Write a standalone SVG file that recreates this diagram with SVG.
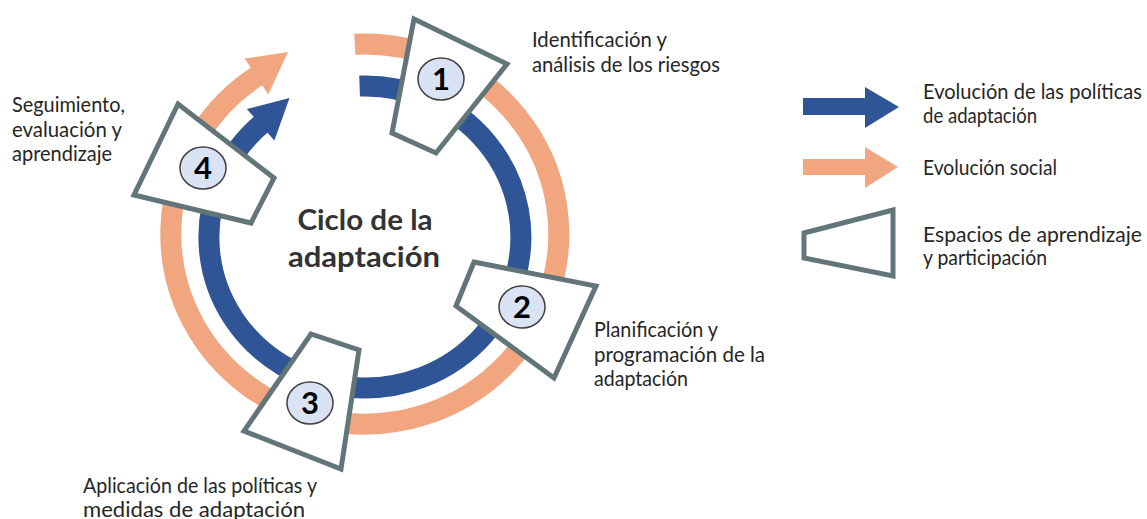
<svg xmlns="http://www.w3.org/2000/svg" width="1147" height="519" viewBox="0 0 1147 519">
  <style>
    .lbl { font-family: Lato, "Liberation Sans", sans-serif; font-size: 20.5px; fill: #262626; }
    .title { font-family: Lato, "Liberation Sans", sans-serif; font-size: 28px; font-weight: bold; fill: #333333; }
    .num { font-family: Lato, "Liberation Sans", sans-serif; font-size: 31px; font-weight: bold; fill: #000000; text-anchor: middle; }
    .box { fill: #ffffff; stroke: #627578; stroke-width: 5; stroke-linejoin: miter; }
    .badge { fill: #dae3f3; stroke: #404040; stroke-width: 1.5; }
    .blue { fill: none; stroke: #2f5597; stroke-width: 21; }
    .orange { fill: none; stroke: #f2a680; stroke-width: 21; }
  </style>
  <rect width="1147" height="519" fill="#ffffff"/>

  <g id="connectors">
    <path class="orange" d="M 354.8 44.3 A 194 190 0 1 1 259.3 74.6"/>
    <polygon fill="#f2a680" points="244.7,58.6 268.3,94.4 288,52"/>
    <path class="blue" d="M 359.6 86.1 A 156 151 0 1 1 262.6 123"/>
    <polygon fill="#2f5597" points="246.8,109 274.4,140.6 289.5,98"/>
  </g>

  <g id="title">
    <text class="title" x="365" y="230" text-anchor="middle" textLength="135" lengthAdjust="spacingAndGlyphs">Ciclo de la</text>
    <text class="title" x="364" y="267" text-anchor="middle" textLength="152" lengthAdjust="spacingAndGlyphs">adaptación</text>
  </g>

  <g id="step1">
    <polygon class="box" points="414,19 507,64 436,153 392,133"/>
    <ellipse class="badge" cx="441" cy="79" rx="23" ry="21"/>
    <text class="num" x="441" y="90">1</text>
    <text class="lbl" x="532" y="47" textLength="135" lengthAdjust="spacingAndGlyphs">Identificación y</text>
    <text class="lbl" x="532" y="72" textLength="188" lengthAdjust="spacingAndGlyphs">análisis de los riesgos</text>
  </g>

  <g id="step2">
    <polygon class="box" points="474,262 596,286 554,378 456,306"/>
    <ellipse class="badge" cx="522" cy="307" rx="23" ry="21"/>
    <text class="num" x="522" y="318">2</text>
    <text class="lbl" x="594" y="337" textLength="124" lengthAdjust="spacingAndGlyphs">Planificación y</text>
    <text class="lbl" x="594" y="362" textLength="171" lengthAdjust="spacingAndGlyphs">programación de la</text>
    <text class="lbl" x="594" y="386" textLength="94" lengthAdjust="spacingAndGlyphs">adaptación</text>
  </g>

  <g id="step3">
    <polygon class="box" points="311,334 359,350 341,469 244,431"/>
    <ellipse class="badge" cx="310" cy="403" rx="23" ry="21"/>
    <text class="num" x="310" y="414">3</text>
    <text class="lbl" x="83" y="493" textLength="234" lengthAdjust="spacingAndGlyphs">Aplicación de las políticas y</text>
    <text class="lbl" x="83" y="517" textLength="222" lengthAdjust="spacingAndGlyphs">medidas de adaptación</text>
  </g>

  <g id="step4">
    <polygon class="box" points="178,104 274,178 251,223 134,195"/>
    <ellipse class="badge" cx="203" cy="168" rx="23" ry="21"/>
    <text class="num" x="203" y="179">4</text>
    <text class="lbl" x="12" y="112" textLength="113" lengthAdjust="spacingAndGlyphs">Seguimiento,</text>
    <text class="lbl" x="12" y="137" textLength="110" lengthAdjust="spacingAndGlyphs">evaluación y</text>
    <text class="lbl" x="12" y="161" textLength="100" lengthAdjust="spacingAndGlyphs">aprendizaje</text>
  </g>

  <g id="legend">
    <polygon fill="#2f5597" points="803,98 865,98 865,87 899,107 865,128 865,115 803,115"/>
    <text class="lbl" x="923" y="99" textLength="219" lengthAdjust="spacingAndGlyphs">Evolución de las políticas</text>
    <text class="lbl" x="923" y="123" textLength="114" lengthAdjust="spacingAndGlyphs">de adaptación</text>
    <polygon fill="#f2a680" points="803,159 865,159 865,147 898,167 865,188 865,175 803,175"/>
    <text class="lbl" x="923" y="175" textLength="134" lengthAdjust="spacingAndGlyphs">Evolución social</text>
    <polygon class="box" points="804,233 893,210 893,276 804,258"/>
    <text class="lbl" x="923" y="242" textLength="219" lengthAdjust="spacingAndGlyphs">Espacios de aprendizaje</text>
    <text class="lbl" x="923" y="265" textLength="124" lengthAdjust="spacingAndGlyphs">y participación</text>
  </g>
</svg>
